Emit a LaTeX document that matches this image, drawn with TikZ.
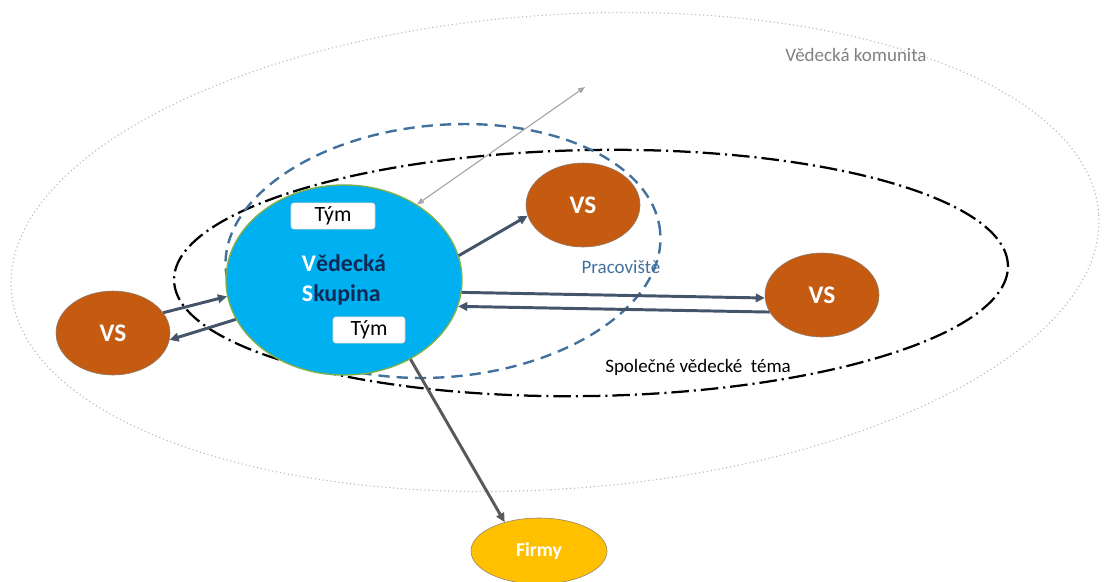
\documentclass[tikz,border=0pt]{standalone}
\usepackage{fontspec}
\setmainfont{Carlito}
\usepackage{tikz}
\usetikzlibrary{shapes.geometric, arrows.meta}
\definecolor{skupblue}{HTML}{00B0F0}
\definecolor{skupline}{HTML}{7FAF4F}
\definecolor{navytext}{HTML}{0F2A55}
\definecolor{vsbrown}{HTML}{C55A11}
\definecolor{firmgold}{HTML}{FFC000}
\definecolor{linkslate}{HTML}{44546A}
\definecolor{pracblue}{HTML}{41719C}

\begin{document}
\begin{tikzpicture}[x=0.025cm, y=0.025cm, >={Triangle[length=6.5pt, width=6pt]},
  every node/.style={align=center, font=\fontsize{13.5}{16}\selectfont},
  vsnode/.style={draw=gray!80!brown, ellipse, fill=vsbrown, text=white, inner sep=0pt, minimum width=2.85cm, minimum height=2.1cm, font=\fontsize{18}{21}\selectfont\bfseries},
  tymbox/.style={draw=gray!40, rectangle, rounded corners=2pt, fill=white, inner sep=0pt, minimum height=0.66cm, font=\fontsize{15.5}{18}\selectfont},
  link/.style={->, draw=linkslate, line width=2.1pt}]

\useasboundingbox (0,0) rectangle (1105,-581);

% Areas
\draw[gray!55, dotted, line width=0.8pt, rotate around={4:(555,-252)}] (555,-252) ellipse [x radius=545, y radius=237];
\draw[black, line width=1.6pt, dash pattern=on 12.5pt off 3.5pt on 1.5pt off 3.5pt, rotate around={1:(591,-273)}] (591,-273) ellipse [x radius=417, y radius=123];
\draw[pracblue, line width=1.7pt, dash pattern=on 8pt off 5pt, rotate around={5:(443,-251)}] (443,-251) ellipse [x radius=218, y radius=126];

% Nodes
\node (skupina) at (344,-280) [draw=skupline, line width=1pt, ellipse, fill=skupblue, inner sep=0pt, minimum width=5.9cm, minimum height=4.75cm, align=left, text=navytext, font=\fontsize{17}{21}\selectfont\bfseries] {\textcolor{white}{V}ědecká\\\textcolor{white}{S}kupina};
\node (tym1) at (333,-216) [tymbox, minimum width=2.1cm] {Tým};
\node (tym2) at (369,-330) [tymbox, minimum width=1.8cm] {Tým};
\node (vstop) at (583,-205) [vsnode] {VS};
\node (vsright) at (822,-295) [vsnode] {VS};
\node (vsleft) at (113,-333) [vsnode] {VS};
\node (firmy) at (539,-551) [draw=gray!70!brown, ellipse, fill=firmgold, text=white, inner sep=0pt, minimum width=3.4cm, minimum height=1.65cm, font=\fontsize{14}{17}\selectfont\bfseries] {Firmy};

% Labels
\node (komunita) at (856,-55) [text=gray] {Vědecká komunita};
\node (pracoviste) at (621,-267) [text=pracblue] {Pracoviště};
\node (tema) at (698,-367) {Společné vědecké\ \ téma};
\coordinate (ven) at (585,-87);

% Arrows
\draw[{Triangle[length=5pt, width=4pt]}-{Triangle[length=5pt, width=4pt]}, gray!70, line width=0.8pt] (skupina.46) -- (ven);
\draw[link] (skupina.12) -- (vstop.191);
\draw[link] (skupina.-6) -- (vsright.183);
\draw[link] (vsright.198) -- (skupina.-13);
\draw[link] (vsleft.22) -- (skupina.188);
\draw[link] (skupina.200) -- (vsleft.-7);
\draw[->, draw=black!65, line width=2.1pt] (skupina.-50) -- (firmy.140);

\end{tikzpicture}
\end{document}
